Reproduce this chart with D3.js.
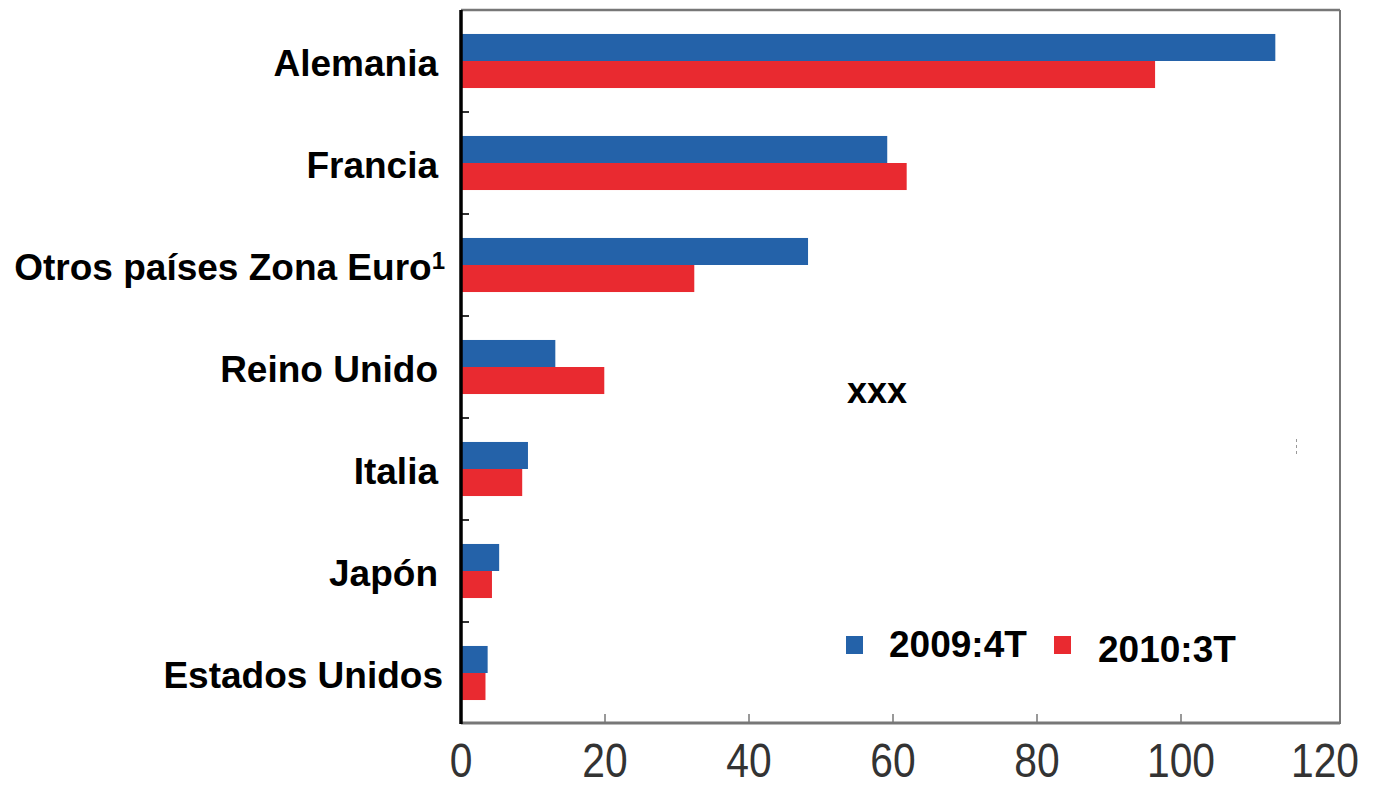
<!DOCTYPE html>
<html>
<head>
<meta charset="utf-8">
<script src="https://cdn.jsdelivr.net/npm/d3@7"></script>
<style>
  body { margin: 0; background: #fff; }
  svg { display: block; font-family: "Liberation Sans", Arial, sans-serif; }
</style>
</head>
<body>
<div id="chart"></div>
<script>
const categories = ["Alemania", "Francia", "Otros países Zona Euro", "Reino Unido", "Italia", "Japón", "Estados Unidos"];
const seriesNames = ["2009:4T", "2010:3T"];
const values2009 = [113.1, 59.2, 48.2, 13.1, 9.3, 5.3, 3.7];
const values2010 = [96.4, 61.9, 32.4, 19.9, 8.5, 4.3, 3.4];
const xTicks = [0, 20, 40, 60, 80, 100, 120];
const colors = ["#2462a9", "#e92a30"];

const W = 1378, H = 789;
const plotLeft = 461, plotTop = 10, plotBottom = 724, frameRight = 1340;

const svg = d3.select("#chart").append("svg")
    .attr("width", W)
    .attr("height", H);

const data = categories.map((c, i) => ({ cat: c, vals: [values2009[i], values2010[i]] }));

const x = d3.scaleLinear().domain([0, 120]).range([plotLeft, 1325]);
const y = d3.scaleBand().domain(categories).range([plotTop, plotBottom])
    .paddingInner(0.47).paddingOuter(0.235);
const ySub = d3.scaleBand().domain(seriesNames).range([0, y.bandwidth()]);

// frame top / right
svg.append("line").attr("x1", plotLeft).attr("x2", frameRight).attr("y1", plotTop).attr("y2", plotTop)
    .attr("stroke", "#777").attr("stroke-width", 2.5);
svg.append("line").attr("x1", frameRight).attr("x2", frameRight).attr("y1", plotTop).attr("y2", plotBottom)
    .attr("stroke", "#777").attr("stroke-width", 2);

// bars
const groups = svg.selectAll(".cat")
    .data(data)
    .join("g")
    .attr("class", "cat")
    .attr("transform", d => `translate(0,${y(d.cat)})`);

groups.selectAll("rect")
    .data(d => d.vals.map((v, i) => ({ key: seriesNames[i], v, i })))
    .join("rect")
    .attr("x", x(0) + 1)
    .attr("y", d => ySub(d.key))
    .attr("width", d => x(d.v) - x(0) - 1)
    .attr("height", ySub.bandwidth())
    .attr("fill", d => colors[d.i]);

// y tick marks at band boundaries
const step = y.step();
const boundaries = categories.slice(1).map(c => y(c) - y.paddingInner() * step / 2);
svg.selectAll(".ytick")
    .data(boundaries)
    .join("line")
    .attr("x1", plotLeft).attr("x2", plotLeft + 8)
    .attr("y1", d => d).attr("y2", d => d)
    .attr("stroke", "#333").attr("stroke-width", 2);

// x axis
svg.append("line").attr("x1", plotLeft).attr("x2", frameRight).attr("y1", plotBottom - 1).attr("y2", plotBottom - 1)
    .attr("stroke", "#777").attr("stroke-width", 3);
svg.selectAll(".xtick")
    .data(xTicks.slice(1, -1))
    .join("line")
    .attr("x1", d => x(d)).attr("x2", d => x(d))
    .attr("y1", plotBottom - 2).attr("y2", plotBottom - 10)
    .attr("stroke", "#777").attr("stroke-width", 1.5);
svg.selectAll(".xlabel")
    .data(xTicks)
    .join("text")
    .attr("transform", d => `translate(${x(d)},777) scale(0.85,1)`)
    .attr("text-anchor", "middle")
    .attr("font-size", 48)
    .attr("fill", "#333")
    .text(d => d);

// left axis
svg.append("line").attr("x1", plotLeft).attr("x2", plotLeft).attr("y1", plotTop).attr("y2", plotBottom)
    .attr("stroke", "#000").attr("stroke-width", 3.5);

// category labels
const labels = svg.selectAll(".ylabel")
    .data(categories)
    .join("text")
    .attr("x", 438)
    .attr("y", d => y(d) + y.bandwidth() / 2)
    .attr("dy", "0.4em")
    .attr("text-anchor", "end")
    .attr("font-size", 37)
    .attr("font-weight", "bold")
    .attr("fill", "#000")
    .text(d => d);
labels.filter(d => d === "Otros países Zona Euro")
    .attr("x", 445)
    .append("tspan")
    .attr("dy", "-0.45em")
    .attr("font-size", 24)
    .text("1");
labels.filter(d => d === "Estados Unidos").attr("x", 443);

// stray label
svg.append("text")
    .attr("x", 847).attr("y", 403)
    .attr("font-size", 36).attr("font-weight", "bold")
    .text("xxx");
svg.append("line")
    .attr("x1", 1296.5).attr("x2", 1296.5).attr("y1", 439).attr("y2", 456)
    .attr("stroke", "#999").attr("stroke-width", 1).attr("stroke-dasharray", "3,3");

// legend
const legend = [
    { name: seriesNames[0], sx: 846, sy: 636, tx: 889, ty: 657 },
    { name: seriesNames[1], sx: 1054, sy: 636, tx: 1098, ty: 662 }
];
legend.forEach((l, i) => {
    svg.append("rect").attr("x", l.sx).attr("y", l.sy).attr("width", 17).attr("height", 18)
        .attr("fill", colors[i]);
    svg.append("text").attr("x", l.tx).attr("y", l.ty)
        .attr("font-size", 37).attr("font-weight", "bold")
        .text(l.name);
});
</script>
</body>
</html>
